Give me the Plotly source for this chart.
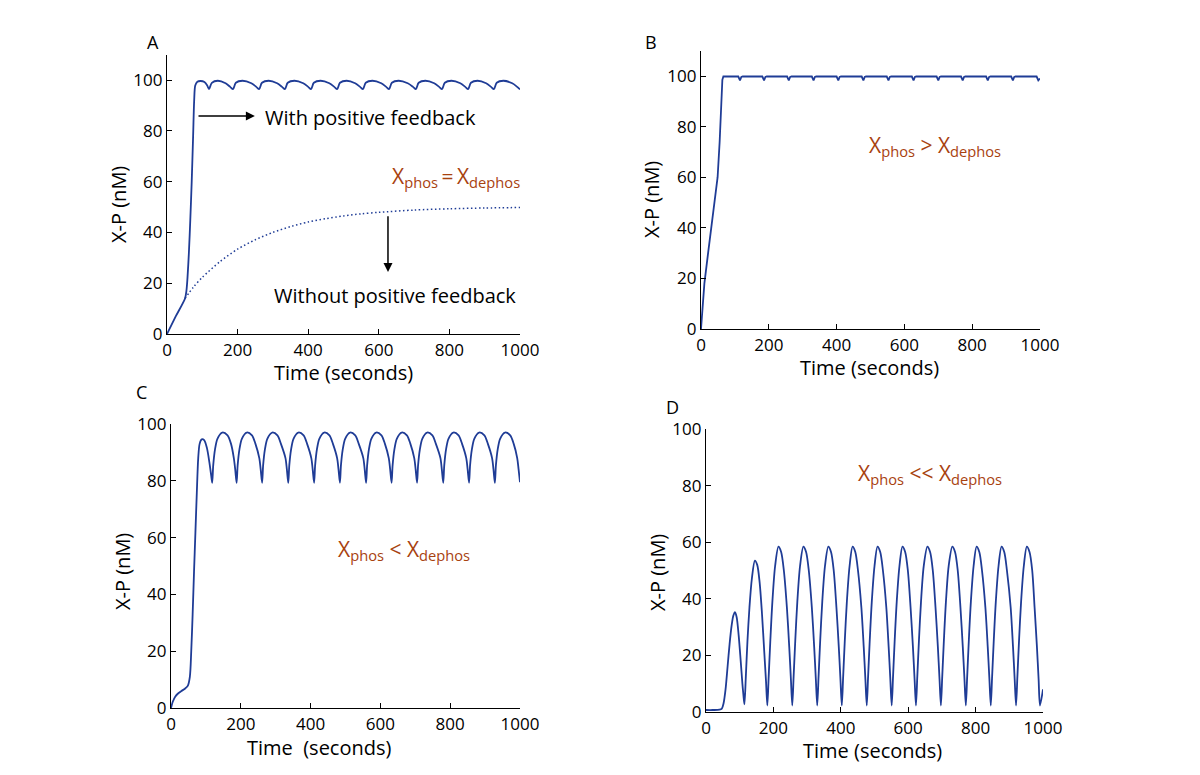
import plotly.graph_objects as go

# ---------------- data ----------------
# Panel A: with positive feedback (solid)
A_t = [0, 25, 51, 55, 58, 62, 66, 70, 74, 77, 80, 86, 95, 106, 114, 119,
       127, 144, 166, 179, 187,
       195, 214, 239, 253, 261,
       269, 288, 312, 326, 334,
       342, 361, 386, 400, 408,
       416, 435, 460, 474, 482,
       490, 509, 533, 547, 555,
       563, 582, 607, 621, 629,
       637, 656, 682, 697, 705,
       713, 732, 757, 771, 779,
       787, 806, 831, 845, 853,
       861, 880, 904, 918, 926,
       934, 953, 978, 992, 1000]
A_v = [0, 7, 14, 17, 22, 32, 45, 60, 78, 92, 97.8, 99.3, 99.6, 99.2, 97.8, 96.4,
       98.9, 99.7, 98.7, 97.3, 96.4,
       98.9, 99.7, 98.7, 97.3, 96.4,
       98.9, 99.7, 98.7, 97.3, 96.4,
       98.9, 99.7, 98.7, 97.3, 96.4,
       98.9, 99.7, 98.7, 97.3, 96.4,
       98.9, 99.7, 98.7, 97.3, 96.4,
       98.9, 99.7, 98.7, 97.3, 96.4,
       98.9, 99.7, 98.7, 97.3, 96.4,
       98.9, 99.7, 98.7, 97.3, 96.4,
       98.9, 99.7, 98.7, 97.3, 96.4,
       98.9, 99.7, 98.7, 97.3, 96.4,
       98.9, 99.7, 98.7, 97.3, 96.3]

# Panel A: without positive feedback (dotted)
A2_t = [51, 75, 100, 150, 200, 250, 300, 350, 400, 450, 500, 550, 600, 700, 800, 900, 1000]
A2_v = [14, 18.5, 22.3, 28.5, 33.4, 37.1, 40.0, 42.3, 44.1, 45.4, 46.5, 47.3, 47.9, 48.8, 49.3, 49.6, 49.8]

# Panel B
B_t = [0, 4, 10, 20, 30, 40, 49, 55, 60, 63, 66,
       110, 115, 119, 123,
       181, 186, 190, 194,
       254, 259, 263, 267,
       327, 332, 336, 340,
       400, 405, 409, 413,
       474, 479, 483, 487,
       548, 553, 557, 561,
       622, 627, 631, 635,
       695, 700, 704, 708,
       767, 772, 776, 780,
       841, 846, 850, 854,
       915, 920, 924, 928,
       990, 995, 1000]
B_v = [0, 8, 18, 29, 40, 50, 60, 74, 89, 98.5, 99.8,
       99.8, 98.3, 99.6, 99.8,
       99.8, 98.3, 99.6, 99.8,
       99.8, 98.3, 99.6, 99.8,
       99.8, 98.3, 99.6, 99.8,
       99.8, 98.3, 99.6, 99.8,
       99.8, 98.3, 99.6, 99.8,
       99.8, 98.3, 99.6, 99.8,
       99.8, 98.3, 99.6, 99.8,
       99.8, 98.3, 99.6, 99.8,
       99.8, 98.3, 99.6, 99.8,
       99.8, 98.3, 99.6, 99.8,
       99.8, 98.3, 99.6, 99.8,
       99.8, 98.3, 99.0]

# Panel C
C_t = [0, 5, 12, 21, 30, 40, 48, 54, 58, 62, 66, 70, 74, 78, 82, 88, 95, 103, 110, 115, 118,
       121, 126, 133, 147, 162, 172, 180, 184, 188,
       191, 196, 203, 217, 232, 242, 253, 257, 261,
       264, 269, 276, 290, 305, 315, 328, 332, 336,
       339, 344, 351, 365, 380, 390, 402, 406, 410,
       413, 418, 425, 439, 454, 464, 476, 480, 484,
       487, 492, 499, 513, 528, 538, 551, 555, 559,
       562, 567, 574, 588, 603, 613, 624, 628, 632,
       635, 640, 647, 661, 676, 686, 697, 701, 705,
       708, 713, 720, 734, 749, 759, 772, 776, 780,
       783, 788, 795, 809, 824, 834, 846, 850, 854,
       857, 862, 869, 883, 898, 908, 920, 924, 928,
       931, 936, 943, 957, 972, 982, 992, 996, 1000]
C_v = [0, 2.2, 4, 5.2, 6, 6.8, 7.8, 11, 20, 33, 48, 62, 76, 88, 93, 94.6, 94.3, 91.5, 86.5, 82, 79.3,
       85.5, 91, 94.8, 97.0, 96.0, 93.0, 88, 84, 79.3,
       85.5, 91, 94.8, 97.0, 96.0, 93.0, 88, 84, 79.3,
       85.5, 91, 94.8, 97.0, 96.0, 93.0, 88, 84, 79.3,
       85.5, 91, 94.8, 97.0, 96.0, 93.0, 88, 84, 79.3,
       85.5, 91, 94.8, 97.0, 96.0, 93.0, 88, 84, 79.3,
       85.5, 91, 94.8, 97.0, 96.0, 93.0, 88, 84, 79.3,
       85.5, 91, 94.8, 97.0, 96.0, 93.0, 88, 84, 79.3,
       85.5, 91, 94.8, 97.0, 96.0, 93.0, 88, 84, 79.3,
       85.5, 91, 94.8, 97.0, 96.0, 93.0, 88, 84, 79.3,
       85.5, 91, 94.8, 97.0, 96.0, 93.0, 88, 84, 79.3,
       85.5, 91, 94.8, 97.0, 96.0, 93.0, 88, 84, 79.3,
       85.5, 91, 94.8, 97.0, 96.0, 93.0, 88, 84, 79.5]

# Panel D
D_t = [0, 20, 40, 47, 52, 58, 64, 70, 76, 81, 86, 91, 97, 103, 108, 111, 114,
       118, 123, 129, 136, 145, 152, 159, 166, 173, 178, 182,
       186, 191, 197, 205, 215, 223, 231, 240, 247, 252, 256,
       260, 265, 271, 279, 289, 297, 305, 314, 321, 326, 330,
       334, 339, 345, 353, 363, 371, 379, 387, 394, 399, 403,
       407, 412, 418, 426, 435, 443, 451, 461, 468, 473, 477,
       481, 486, 492, 500, 509, 517, 525, 535, 542, 547, 551,
       555, 560, 566, 574, 583, 591, 599, 607, 614, 619, 623,
       627, 632, 638, 646, 657, 665, 673, 681, 688, 693, 697,
       701, 706, 712, 720, 731, 739, 747, 755, 762, 767, 771,
       775, 780, 786, 794, 803, 811, 819, 829, 836, 841, 845,
       849, 854, 860, 868, 877, 885, 893, 904, 911, 916, 920,
       924, 929, 935, 943, 952, 960, 968, 975, 982, 987, 991,
       1000]
D_v = [0.7, 0.7, 0.8, 1.2, 3, 8, 16, 24, 30.5, 34, 35.3, 33.5, 27, 18, 10, 6, 2.7,
       12, 25, 37, 47, 53.5, 52, 46, 35, 21, 11, 2.3,
       12.5, 25.5, 39, 51.5, 58.4, 56.5, 50, 37, 23, 11.5, 2.3,
       12.5, 25.5, 39, 51.5, 58.4, 56.5, 50, 37, 23, 11.5, 2.3,
       12.5, 25.5, 39, 51.5, 58.4, 56.5, 50, 37, 23, 11.5, 2.3,
       12.5, 25.5, 39, 51.5, 58.4, 56.5, 50, 37, 23, 11.5, 2.3,
       12.5, 25.5, 39, 51.5, 58.4, 56.5, 50, 37, 23, 11.5, 2.3,
       12.5, 25.5, 39, 51.5, 58.4, 56.5, 50, 37, 23, 11.5, 2.3,
       12.5, 25.5, 39, 51.5, 58.4, 56.5, 50, 37, 23, 11.5, 2.3,
       12.5, 25.5, 39, 51.5, 58.4, 56.5, 50, 37, 23, 11.5, 2.3,
       12.5, 25.5, 39, 51.5, 58.4, 56.5, 50, 37, 23, 11.5, 2.3,
       12.5, 25.5, 39, 51.5, 58.4, 56.5, 50, 37, 23, 11.5, 2.3,
       12.5, 25.5, 39, 51.5, 58.4, 56.5, 50, 37, 23, 11.5, 2.3,
       8]

x_ticks = [0, 200, 400, 600, 800, 1000]
y_ticks = [0, 20, 40, 60, 80, 100]
panel_letters = ["A", "B", "C", "D"]
x_titles = ["Time (seconds)", "Time (seconds)", "Time\u00a0 (seconds)", "Time (seconds)"]
y_title = "X-P (nM)"

# ---------------- styling ----------------
# The page body has an 8 px default margin, so the figure is 16 px smaller
# than the window and every reference pixel position is shifted by 8 px.
OFF = 8
W, H = 1200 - 2 * OFF, 775 - 2 * OFF
LINE = "#1f3c96"
BROWN = "#a8420f"
FONT = "Open Sans"


def fx(px):
    return (px - OFF) / W


def fy(py):
    return 1 - (py - OFF) / H


fig = go.Figure()


def add_line(t, v, xa, ya, dash="solid", width=1.8, shape="spline"):
    line = dict(color=LINE, width=width, dash=dash, shape=shape)
    if shape == "spline":
        line["smoothing"] = 0.8
    fig.add_trace(go.Scatter(x=t, y=v, mode="lines", xaxis=xa, yaxis=ya, line=line,
                             hoverinfo="skip", showlegend=False))


add_line(A2_t, A2_v, "x", "y", dash="1.5px,2.5px", width=1.5)
add_line(A_t, A_v, "x", "y")
add_line(B_t, B_v, "x2", "y2", shape="linear")
add_line(C_t, C_v, "x3", "y3")
add_line(D_t, D_v, "x4", "y4")

# pixel boxes of the four axes (reference window pixels)
boxes = {
    1: dict(l=167, r=520, b=334, t=54.6, ymax=110),
    2: dict(l=701, r=1040, b=329, t=50.7, ymax=110),
    3: dict(l=171, r=520, b=708, t=424, ymax=100),
    4: dict(l=706, r=1043, b=712, t=429, ymax=100),
}

axis_common = dict(showgrid=False, zeroline=False, showline=True, linecolor="black",
                   linewidth=1.3, ticks="inside", ticklen=5, tickcolor="black",
                   tickwidth=1.2, mirror=False, automargin=False,
                   tickfont=dict(family=FONT, size=17, color="black"))

layout_axes = {}
for i, b in boxes.items():
    sx = "" if i == 1 else str(i)
    layout_axes["xaxis" + sx] = dict(
        axis_common, domain=[fx(b["l"]), fx(b["r"])], range=[0, 1000],
        tickvals=x_ticks, anchor="y" + sx)
    layout_axes["yaxis" + sx] = dict(
        axis_common, domain=[fy(b["b"]), fy(b["t"])], range=[0, b["ymax"]],
        tickvals=y_ticks, anchor="x" + sx)

fig.update_layout(**layout_axes)

ann = []
# panel letters
for letter, (px, py) in zip(panel_letters, [(153, 42), (651, 42), (141, 392), (672, 407)]):
    ann.append(dict(text=letter, x=fx(px), y=fy(py), xref="paper", yref="paper",
                    showarrow=False, font=dict(family=FONT, size=18, color="black"),
                    xanchor="center", yanchor="middle"))

title_font = dict(family=FONT, size=20, color="black")
# x-axis titles (pixel centres)
for txt, (px, py) in zip(x_titles, [(343, 372), (869, 368), (319, 747), (872, 750)]):
    ann.append(dict(text=txt, x=fx(px), y=fy(py), xref="paper", yref="paper",
                    showarrow=False, font=title_font, xanchor="center", yanchor="middle"))
# y-axis titles
for (px, py) in [(118, 205), (651, 200), (122, 572), (657, 573)]:
    ann.append(dict(text=y_title, x=fx(px), y=fy(py), xref="paper", yref="paper",
                    textangle=-90, showarrow=False, font=title_font,
                    xanchor="center", yanchor="middle"))

txt_font = dict(family=FONT, size=20, color="black")
sub_font = dict(family=FONT, size=21, color=BROWN)

# Panel A annotations
ann.append(dict(x=249, y=85.8, ax=85, ay=85.8, xref="x", yref="y", axref="x", ayref="y",
                showarrow=True, arrowhead=2, arrowsize=1.2, arrowwidth=1.5, arrowcolor="black", text=""))
ann.append(dict(x=272, y=85.4, xref="x", yref="y", text="With positive feedback",
                showarrow=False, xanchor="left", yanchor="middle", font=txt_font))
ann.append(dict(x=632, y=62, xref="x", yref="y",
                text="X<sub>phos</sub>\u2009=\u2009X<sub>dephos</sub>",
                showarrow=False, xanchor="left", yanchor="middle", font=sub_font))
ann.append(dict(x=626, y=24.4, ax=626, ay=46.9, xref="x", yref="y", axref="x", ayref="y",
                showarrow=True, arrowhead=2, arrowsize=1.2, arrowwidth=1.5, arrowcolor="black", text=""))
ann.append(dict(x=297, y=15, xref="x", yref="y", text="Without positive feedback",
                showarrow=False, xanchor="left", yanchor="middle", font=txt_font))
# Panel B
ann.append(dict(x=490, y=72.3, xref="x2", yref="y2", text="X<sub>phos</sub> > X<sub>dephos</sub>",
                showarrow=False, xanchor="left", yanchor="middle", font=sub_font))
# Panel C
ann.append(dict(x=473, y=55.6, xref="x3", yref="y3", text="X<sub>phos</sub> < X<sub>dephos</sub>",
                showarrow=False, xanchor="left", yanchor="middle", font=sub_font))
# Panel D
ann.append(dict(x=445, y=84.1, xref="x4", yref="y4", text="X<sub>phos</sub> << X<sub>dephos</sub>",
                showarrow=False, xanchor="left", yanchor="middle", font=sub_font))

fig.update_layout(width=W, height=H, margin=dict(l=0, r=0, t=0, b=0),
                  plot_bgcolor="white", paper_bgcolor="white", showlegend=False,
                  font=dict(family=FONT, color="black"), annotations=ann)

fig.write_html("out.html")
